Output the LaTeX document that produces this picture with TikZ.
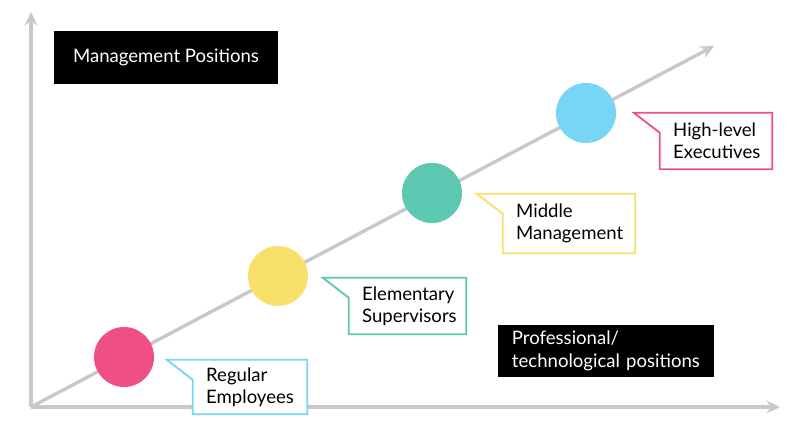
\documentclass[tikz,border=0pt]{standalone}
\usepackage{fontspec}
\setmainfont{Lato}
\usetikzlibrary{arrows.meta,calc}
\definecolor{axisgray}{HTML}{C8C8C8}
\definecolor{rosepink}{HTML}{EE4F85}
\definecolor{sunyellow}{HTML}{F8E06B}
\definecolor{seateal}{HTML}{5CC8B2}
\definecolor{skyblue}{HTML}{78D5F5}
\tikzset{
    axisline/.style={draw=axisgray,line width=2.4pt,-{Stealth[length=3.4mm,width=3.2mm,inset=1.2mm]}},
    levelnode/.style={circle,minimum size=1.5cm,inner sep=0pt},
    labelbox/.style={rectangle,fill=black,text=white,align=left,minimum height=1.32cm,
        font=\fontsize{13.2}{16.5}\selectfont},
    calloutbox/.style={rectangle,fill=white,align=left,inner xsep=0.33cm,inner ysep=0pt,
        font=\fontsize{13.2}{15.5}\selectfont},
    calloutline/.style={line width=1.3pt,line join=miter}
}
% outline of a callout: flag tail on the upper left corner
\newcommand{\calloutframe}[2]{%
    \draw[calloutline,draw=#2] ($(#1.north west)+(-26,0)$) -- (#1.north east)
        -- (#1.south east) -- (#1.south west) -- ($(#1.north west)+(0,20)$) -- cycle;}
\begin{document}
\begin{tikzpicture}[x=0.025cm,y=-0.025cm]
    \useasboundingbox[fill=white] (0,0) rectangle (800,435);
    % axes
    \coordinate (origin) at (31,407);
    \coordinate (ytop) at (31,12);
    \coordinate (xend) at (780,407);
    \coordinate (diagend) at (714,46);
    \draw[axisline] (origin) -- (ytop);
    \draw[axisline] (origin) -- (xend);
    \draw[axisline] (origin) -- (diagend);
    % levels
    \node[levelnode,fill=rosepink] (regular) at (124,357) {};
    \node[levelnode,fill=sunyellow] (elementary) at (278,276) {};
    \node[levelnode,fill=seateal] (middle) at (432,193) {};
    \node[levelnode,fill=skyblue] (high) at (586,113) {};
    % callouts
    \node[calloutbox,text width=2.19cm,minimum height=1.35cm] (regularlbl) at (250,387) {Regular\\Employees};
    \node[calloutbox,text width=2.265cm,minimum height=1.4cm] (elementarylbl) at (407.5,306) {Elementary\\Supervisors};
    \node[calloutbox,text width=2.64cm,minimum height=1.475cm] (middlelbl) at (569,223.5) {Middle\\Management};
    \node[calloutbox,text width=2.14cm,minimum height=1.4cm] (highlbl) at (716,141) {High-level\\Executives};
    \calloutframe{regularlbl}{skyblue}
    \calloutframe{elementarylbl}{seateal}
    \calloutframe{middlelbl}{sunyellow}
    \calloutframe{highlbl}{rosepink}
    % axis titles
    \node[labelbox,minimum width=5.6cm,align=center] (mgmt) at (166,57.5) {Management Positions};
    \node[labelbox,minimum height=1.3cm,text width=4.7cm,inner xsep=0.35cm] (prof) at (606,351) {Professional/\\technological positions};
\end{tikzpicture}
\end{document}
